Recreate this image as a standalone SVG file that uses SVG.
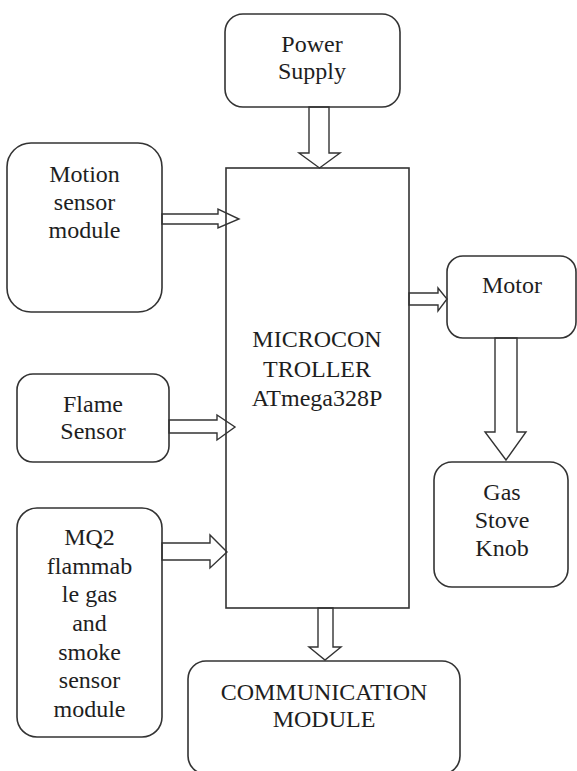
<svg xmlns="http://www.w3.org/2000/svg" width="577" height="771" viewBox="0 0 577 771">
<style>
.box{fill:#fff;stroke:#333;stroke-width:1.6}
.arr{fill:none;stroke:#333;stroke-width:1.4;stroke-linejoin:miter}
</style>
<rect width="577" height="771" fill="#fff"/>
<g id="nodes" font-family="Liberation Serif, DejaVu Serif, serif" font-size="24" fill="#1e1e1e" text-anchor="middle">
<g id="power"><rect class="box" x="225" y="14" width="175" height="93" rx="18"/><text x="312" y="52">Power</text><text x="312" y="79">Supply</text></g>
<g id="mcu"><rect class="box" x="226" y="168" width="183" height="440" rx="0"/><text x="317" y="347">MICROCON</text><text x="317" y="377">TROLLER</text><text x="317" y="406">ATmega328P</text></g>
<g id="motion"><rect class="box" x="7" y="143" width="155" height="169" rx="24"/><text x="84.5" y="182">Motion</text><text x="84.5" y="210">sensor</text><text x="84.5" y="238">module</text></g>
<g id="flame"><rect class="box" x="17" y="374" width="152" height="88" rx="16"/><text x="93" y="412">Flame</text><text x="93" y="439">Sensor</text></g>
<g id="mq2"><rect class="box" x="17" y="508" width="145" height="229" rx="20"/><text x="89.5" y="545">MQ2</text><text x="89.5" y="574">flammab</text><text x="89.5" y="602">le gas</text><text x="89.5" y="631">and</text><text x="89.5" y="660">smoke</text><text x="89.5" y="688">sensor</text><text x="89.5" y="717">module</text></g>
<g id="motor"><rect class="box" x="447" y="256" width="129" height="82" rx="16"/><text x="512" y="293">Motor</text></g>
<g id="knob"><rect class="box" x="434" y="462" width="134" height="125" rx="18"/><text x="502" y="500">Gas</text><text x="502" y="528">Stove</text><text x="502" y="556">Knob</text></g>
<g id="comm"><rect class="box" x="188" y="661" width="272" height="113" rx="18"/><text x="324" y="700">COMMUNICATION</text><text x="324" y="727">MODULE</text></g>
</g>
<g id="connectors">
<polygon class="arr" points="309,107 309,153 299,153 319.5,168 340,153 329,153 329,107"/>
<polygon class="arr" points="162,214 218,214 218,209 239,219 218,228 218,224 162,224"/>
<polygon class="arr" points="169,420 217,420 217,415 235,427 217,440 217,433 169,433"/>
<polygon class="arr" points="162,543 210,543 210,535 227,552 210,568 210,560 162,560"/>
<polygon class="arr" points="409,293 438,293 438,288 447,299 438,311 438,305 409,305"/>
<polygon class="arr" points="495,338 495,432 485,432 506,460 526,432 517,432 517,338"/>
<polygon class="arr" points="318,608 318,647 309,647 325,660 341,647 333,647 333,608"/>
</g>
</svg>
